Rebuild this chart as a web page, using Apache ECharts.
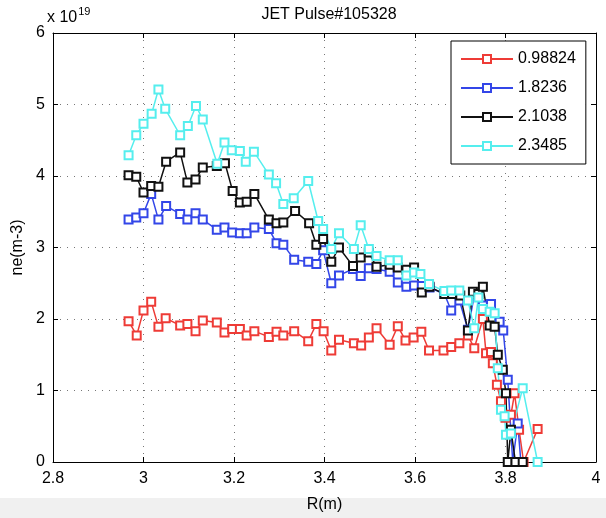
<!DOCTYPE html>
<html>
<head>
<meta charset="utf-8">
<title>JET Pulse#105328</title>
<script src="https://cdn.jsdelivr.net/npm/echarts@6/dist/echarts.min.js"></script>
<style>
  html, body { margin: 0; padding: 0; background: #fff; }
  #chart { width: 606px; height: 518px; }
</style>
</head>
<body>
<div id="chart"></div>
<script>
// values, ne in units of 1e19 m^-3
const names = ['0.98824', '1.8236', '2.1038', '2.3485']
const colors = ['#ee3b36', '#3346e8', '#111111', '#55eeee']

const redR = [2.967, 2.985, 3.000, 3.017, 3.033, 3.049, 3.081, 3.097, 3.115, 3.131, 3.162, 3.179, 3.196, 3.213, 3.228, 3.245, 3.277, 3.294, 3.309, 3.333, 3.364, 3.382, 3.398, 3.415, 3.432, 3.465, 3.481, 3.498, 3.515, 3.544, 3.562, 3.579, 3.597, 3.614, 3.631, 3.663, 3.680, 3.698, 3.717, 3.731, 3.750, 3.757, 3.768, 3.772, 3.781, 3.790, 3.800, 3.812, 3.820, 3.830, 3.840, 3.871]
const redNe = [1.97, 1.77, 2.12, 2.24, 1.89, 2.01, 1.91, 1.93, 1.83, 1.98, 1.95, 1.81, 1.86, 1.86, 1.77, 1.83, 1.75, 1.82, 1.77, 1.83, 1.69, 1.93, 1.83, 1.56, 1.71, 1.66, 1.63, 1.74, 1.87, 1.64, 1.90, 1.70, 1.74, 1.82, 1.56, 1.56, 1.61, 1.66, 1.77, 1.59, 2.00, 1.52, 1.54, 1.38, 1.08, 0.85, 0.62, 0.66, 0.96, 0.45, 0, 0.46]

const blueR = [2.967, 2.984, 3.000, 3.017, 3.033, 3.050, 3.081, 3.097, 3.115, 3.131, 3.162, 3.179, 3.196, 3.213, 3.228, 3.245, 3.277, 3.294, 3.309, 3.333, 3.364, 3.382, 3.397, 3.415, 3.432, 3.463, 3.480, 3.498, 3.515, 3.544, 3.562, 3.581, 3.598, 3.615, 3.632, 3.665, 3.680, 3.698, 3.717, 3.731, 3.750, 3.768, 3.787, 3.795, 3.805, 3.816, 3.827, 3.834]
const blueNe = [3.39, 3.42, 3.48, 3.75, 3.39, 3.58, 3.47, 3.39, 3.48, 3.39, 3.25, 3.28, 3.21, 3.20, 3.20, 3.28, 3.26, 3.06, 3.04, 2.83, 2.80, 2.77, 2.96, 2.50, 2.61, 2.70, 2.60, 2.71, 2.70, 2.66, 2.51, 2.45, 2.47, 2.46, 2.44, 2.35, 2.12, 2.26, 1.85, 2.33, 2.19, 2.21, 1.96, 1.84, 1.15, 0, 0.54, 0]

const blackR = [2.967, 2.984, 3.000, 3.017, 3.033, 3.050, 3.081, 3.097, 3.115, 3.131, 3.162, 3.180, 3.197, 3.213, 3.228, 3.245, 3.277, 3.294, 3.309, 3.335, 3.366, 3.382, 3.397, 3.415, 3.432, 3.463, 3.480, 3.498, 3.515, 3.544, 3.562, 3.581, 3.598, 3.615, 3.632, 3.665, 3.682, 3.700, 3.717, 3.728, 3.740, 3.750, 3.765, 3.776, 3.783, 3.794, 3.801, 3.805, 3.812, 3.822, 3.838]
const blackNe = [4.01, 3.99, 3.77, 3.86, 3.85, 4.20, 4.33, 3.91, 3.95, 4.12, 4.14, 4.18, 3.79, 3.63, 3.64, 3.75, 3.39, 3.34, 3.35, 3.51, 3.34, 3.04, 3.12, 2.80, 3.00, 2.74, 2.86, 2.93, 2.73, 2.76, 2.72, 2.69, 2.72, 2.37, 2.45, 2.35, 2.35, 2.33, 1.84, 2.38, 2.35, 2.45, 1.91, 1.89, 1.50, 1.29, 0.96, 0, 0.45, 0, 0]

const cyanR = [2.967, 2.984, 3.000, 3.018, 3.033, 3.048, 3.081, 3.098, 3.116, 3.131, 3.163, 3.179, 3.195, 3.213, 3.226, 3.244, 3.277, 3.293, 3.309, 3.332, 3.364, 3.386, 3.397, 3.415, 3.432, 3.465, 3.480, 3.498, 3.515, 3.544, 3.562, 3.581, 3.598, 3.612, 3.631, 3.665, 3.680, 3.698, 3.717, 3.731, 3.740, 3.750, 3.765, 3.776, 3.783, 3.790, 3.798, 3.801, 3.812, 3.838, 3.871]
const cyanNe = [4.29, 4.57, 4.73, 4.87, 5.21, 4.94, 4.57, 4.70, 4.98, 4.79, 4.17, 4.47, 4.36, 4.35, 4.20, 4.34, 4.02, 3.90, 3.61, 3.69, 3.93, 3.37, 3.26, 2.98, 3.20, 2.98, 3.31, 2.98, 2.88, 2.82, 2.82, 2.61, 2.65, 2.63, 2.49, 2.39, 2.40, 2.40, 2.26, 1.87, 2.30, 2.14, 2.10, 2.08, 1.31, 0.73, 0.64, 0.38, 0.40, 1.03, 0]

const xTicks = { min: 2.8, max: 4, interval: 0.2 }
const yTicks = { min: 0, max: 6, interval: 1 }

const font = '"Liberation Sans", Arial, Helvetica, sans-serif'

function pairs (xs, ys) {
  return xs.map((x, i) => [x, ys[i]])
}

function makeSeries (name, xs, ys, color) {
  return {
    name: name,
    type: 'line',
    data: pairs(xs, ys),
    symbol: 'emptyRect',
    symbolSize: 8,
    color: color,
    lineStyle: { width: 1.5, color: color },
    itemStyle: { color: color, borderWidth: 1.3 },
    animation: false
  }
}

const gridLine = { show: true, lineStyle: { color: '#777', type: [1, 6], width: 1 } }
const boxLine = { show: true, onZero: false, lineStyle: { color: '#000', width: 1 } }

const chart = echarts.init(document.getElementById('chart'), null, { renderer: 'canvas' })
chart.setOption({
  backgroundColor: '#fff',
  animation: false,
  title: {
    text: 'JET Pulse#105328',
    left: 324,
    top: 2,
    textAlign: 'center',
    textStyle: { fontFamily: font, fontSize: 16, fontWeight: 'normal', color: '#000' }
  },
  grid: { left: 53, right: 10, top: 33, bottom: 54 },
  legend: {
    orient: 'vertical',
    left: 451,
    top: 41,
    backgroundColor: '#fff',
    borderColor: '#000',
    borderWidth: 1,
    borderRadius: 0,
    padding: [10, 10, 10, 9],
    itemWidth: 52,
    itemHeight: 10,
    itemGap: 13,
    textStyle: { fontFamily: font, fontSize: 16, color: '#000' },
    data: names
  },
  xAxis: [
    {
      type: 'value',
      min: xTicks.min,
      max: xTicks.max,
      interval: xTicks.interval,
      name: 'R(m)',
      nameLocation: 'middle',
      nameGap: 35,
      nameTextStyle: { fontFamily: font, fontSize: 16, color: '#000' },
      axisLine: boxLine,
      axisTick: { show: true, inside: true, length: 5, lineStyle: { color: '#000' } },
      axisLabel: { fontFamily: font, fontSize: 16, color: '#000', margin: 9 },
      splitLine: gridLine
    },
    {
      type: 'value',
      position: 'top',
      min: xTicks.min,
      max: xTicks.max,
      interval: xTicks.interval,
      axisLine: boxLine,
      axisTick: { show: true, inside: true, length: 5, lineStyle: { color: '#000' } },
      axisLabel: { show: false },
      splitLine: { show: false }
    }
  ],
  yAxis: [
    {
      type: 'value',
      min: yTicks.min,
      max: yTicks.max,
      interval: yTicks.interval,
      name: 'ne(m-3)',
      nameLocation: 'middle',
      nameGap: 27,
      nameTextStyle: { fontFamily: font, fontSize: 16, color: '#000' },
      axisLine: boxLine,
      axisTick: { show: true, inside: true, length: 5, lineStyle: { color: '#000' } },
      axisLabel: { fontFamily: font, fontSize: 16, color: '#000', margin: 8 },
      splitLine: gridLine
    },
    {
      type: 'value',
      position: 'right',
      min: yTicks.min,
      max: yTicks.max,
      interval: yTicks.interval,
      axisLine: boxLine,
      axisTick: { show: true, inside: true, length: 5, lineStyle: { color: '#000' } },
      axisLabel: { show: false },
      splitLine: { show: false }
    }
  ],
  // exponent label above the y axis, and the grey strip at the bottom of the window
  graphic: [
    {
      type: 'rect',
      left: 0,
      top: 498,
      z: -10,
      shape: { width: 606, height: 20 },
      style: { fill: '#f0f0f0' },
      silent: true
    },
    {
      type: 'text',
      left: 47,
      top: 6,
      style: {
        text: '{a|x 10}{b|19}',
        rich: {
          a: { fontFamily: font, fontSize: 16, fill: '#000', verticalAlign: 'bottom', lineHeight: 20 },
          b: { fontFamily: font, fontSize: 11, fill: '#000', verticalAlign: 'top', lineHeight: 20, padding: [0, 0, 7, 1] }
        }
      }
    }
  ],
  series: [
    makeSeries(names[0], redR, redNe, colors[0]),
    makeSeries(names[1], blueR, blueNe, colors[1]),
    makeSeries(names[2], blackR, blackNe, colors[2]),
    makeSeries(names[3], cyanR, cyanNe, colors[3])
  ]
})
</script>
</body>
</html>
